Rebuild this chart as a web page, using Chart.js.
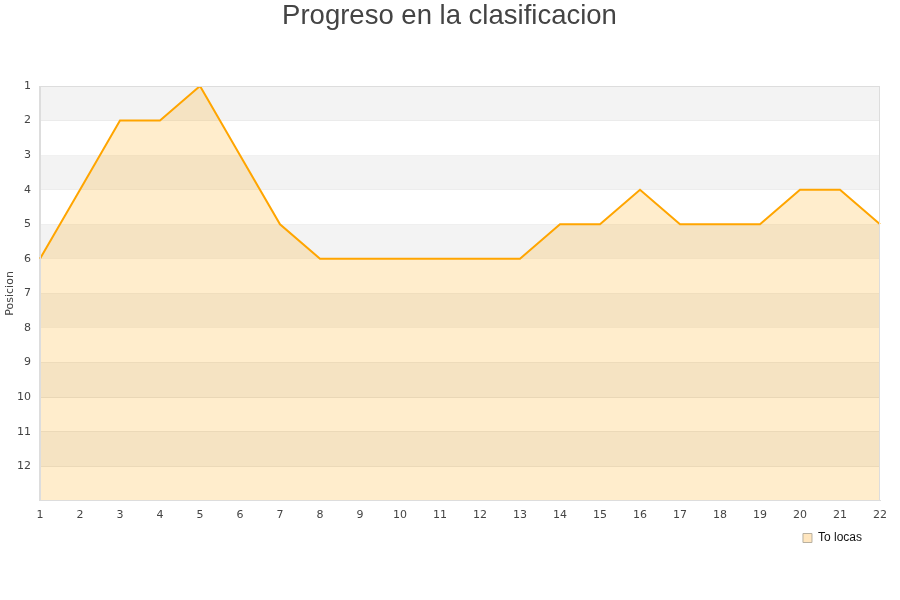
<!DOCTYPE html>
<html>
<head>
<meta charset="utf-8">
<script src="https://cdn.jsdelivr.net/npm/chart.js@4/dist/chart.umd.min.js"></script>
<style>
  html, body { margin: 0; padding: 0; background: #fff; }
  #wrap { width: 900px; height: 600px; }
</style>
</head>
<body>
<div id="wrap"><canvas id="posChart" width="900" height="600"></canvas></div>
<script>
// jornadas y posiciones
const jornadas = ['1','2','3','4','5','6','7','8','9','10','11','12','13','14','15','16','17','18','19','20','21','22'];
const posiciones = [6, 4, 2, 2, 1, 3, 5, 6, 6, 6, 6, 6, 6, 5, 5, 4, 5, 5, 5, 4, 4, 5];
const yTicks = [1, 2, 3, 4, 5, 6, 7, 8, 9, 10, 11, 12];
const yMin = 1;
const yMax = 13;

// franjas grises alternas detras del area + borde del grafico
const bandPlugin = {
    id: 'bands',
    afterLayout(chart) {
        // leyenda un poco mas a la izquierda, titulo centrado en el lienzo
        if (chart.legend) {
            chart.legend.left -= 16;
            chart.legend.right -= 16;
        }
        if (chart.titleBlock) {
            chart.titleBlock.left += 7;
            chart.titleBlock.right += 7;
        }
    },
    beforeDatasetsDraw(chart) {
        const ctx = chart.ctx;
        const area = chart.chartArea;
        const y = chart.scales.y;
        ctx.save();
        ctx.fillStyle = '#f3f3f3';
        for (let v = yMin; v < yMax; v += 2) {
            const top = y.getPixelForValue(v);
            const bottom = y.getPixelForValue(v + 1);
            ctx.fillRect(area.left, top, area.right - area.left, bottom - top);
        }
        ctx.restore();
    },
    afterDraw(chart) {
        const ctx = chart.ctx;
        const a = chart.chartArea;
        ctx.save();
        ctx.strokeStyle = '#dddddd';
        ctx.lineWidth = 1;
        ctx.strokeRect(Math.round(a.left) + 0.5, Math.round(a.top) + 0.5,
            Math.round(a.right - a.left) - 1, Math.round(a.bottom - a.top) - 1);
        ctx.restore();
    }
};

const ctx = document.getElementById('posChart').getContext('2d');
const posChart = new Chart(ctx, {
    type: 'line',
    data: {
        labels: jornadas,
        datasets: [{
            label: 'To locas',
            data: posiciones,
            borderColor: '#ffa500',
            backgroundColor: 'rgba(255, 165, 0, 0.2)',
            borderWidth: 2,
            pointRadius: 0,
            tension: 0,
            fill: { value: yMax }
        }]
    },
    options: {
        responsive: false,
        animation: false,
        layout: { padding: { left: 5, right: 20, top: 0, bottom: 46 } },
        plugins: {
            title: {
                display: true,
                text: 'Progreso en la clasificacion',
                color: '#444',
                font: { family: 'Liberation Sans', size: 27.5, weight: 'normal' },
                padding: { top: 0, bottom: 53 }
            },
            legend: {
                position: 'bottom',
                align: 'end',
                labels: {
                    color: '#111',
                    font: { family: 'Liberation Sans', size: 12 },
                    boxWidth: 9,
                    boxHeight: 9,
                    padding: 2,
                    generateLabels: function(chart) {
                        const items = Chart.defaults.plugins.legend.labels.generateLabels(chart);
                        items.forEach(function(it) {
                            it.fillStyle = '#ffe6bf';
                            it.strokeStyle = '#b8b0a0';
                            it.lineWidth = 1;
                        });
                        return items;
                    }
                }
            },
            tooltip: { enabled: false }
        },
        scales: {
            x: {
                offset: false,
                grid: { display: false, drawTicks: false },
                border: { color: '#dddddd' },
                ticks: {
                    color: '#444',
                    font: { family: 'DejaVu Sans', size: 11 },
                    maxRotation: 0,
                    autoSkip: false,
                    padding: 8
                }
            },
            y: {
                reverse: true,
                min: yMin,
                max: yMax,
                afterBuildTicks: function(scale) {
                    scale.ticks = yTicks.map(v => ({ value: v }));
                },
                grid: { color: '#e2e2e2', drawTicks: false },
                border: { color: '#dddddd' },
                ticks: {
                    color: '#444',
                    font: { family: 'DejaVu Sans', size: 11 },
                    padding: 9
                },
                title: {
                    display: true,
                    text: 'Posicion',
                    color: '#444',
                    font: { family: 'DejaVu Sans', size: 11, lineHeight: 1 },
                    padding: { top: 0, bottom: -8 }
                }
            }
        }
    },
    plugins: [bandPlugin]
});
</script>
</body>
</html>
